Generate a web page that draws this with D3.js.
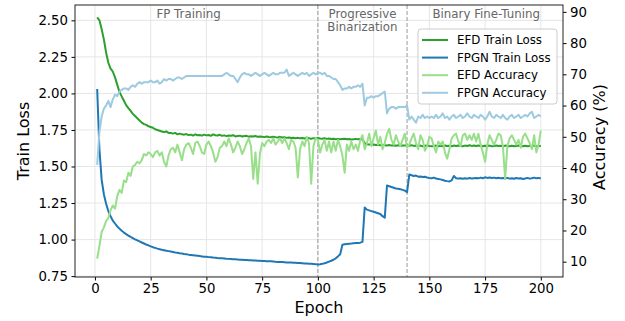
<!DOCTYPE html>
<html>
<head>
<meta charset="utf-8">
<script src="https://cdn.jsdelivr.net/npm/d3@7"></script>
<style>
  body { margin: 0; background: #fff; }
  text { font-family: "DejaVu Sans", sans-serif; }
</style>
</head>
<body>
<svg></svg>
<script>
// values, epochs 1..200
const efdLoss = [
  2.52, 2.50, 2.44, 2.37, 2.28, 2.21, 2.17, 2.15, 2.11, 2.06,
  2.01, 1.98, 1.95, 1.92, 1.90, 1.88, 1.86, 1.845, 1.83, 1.815,
  1.80, 1.79, 1.785, 1.775, 1.77, 1.765, 1.755, 1.75, 1.745, 1.74,
  1.735, 1.74, 1.73, 1.73, 1.725, 1.73, 1.72, 1.725, 1.72, 1.718,
  1.722, 1.715, 1.718, 1.712, 1.72, 1.714, 1.716, 1.711, 1.718, 1.713,
  1.716, 1.71, 1.72, 1.714, 1.712, 1.717, 1.71, 1.713, 1.708, 1.712,
  1.71, 1.714, 1.706, 1.709, 1.711, 1.705, 1.708, 1.71, 1.704, 1.707,
  1.705, 1.709, 1.703, 1.706, 1.704, 1.701, 1.705, 1.702, 1.70, 1.704,
  1.701, 1.699, 1.703, 1.698, 1.70, 1.696, 1.699, 1.695, 1.697, 1.694,
  1.696, 1.693, 1.695, 1.692, 1.697, 1.693, 1.69, 1.694, 1.691, 1.695,
  1.692, 1.69, 1.694, 1.689, 1.691, 1.688, 1.69, 1.687, 1.689, 1.686,
  1.688, 1.69, 1.686, 1.688, 1.685, 1.687, 1.689, 1.686, 1.688, 1.685,
  1.66, 1.652, 1.65, 1.648, 1.651, 1.647, 1.649, 1.645, 1.648, 1.646,
  1.644, 1.647, 1.643, 1.646, 1.642, 1.645, 1.641, 1.644, 1.643, 1.645,
  1.642, 1.646, 1.641, 1.644, 1.64, 1.643, 1.639, 1.642, 1.644, 1.64,
  1.638, 1.641, 1.643, 1.639, 1.642, 1.638, 1.644, 1.64, 1.642, 1.639,
  1.643, 1.64, 1.644, 1.641, 1.639, 1.643, 1.64, 1.645, 1.641, 1.643,
  1.64, 1.644, 1.641, 1.638, 1.642, 1.64, 1.643, 1.639, 1.641, 1.644,
  1.64, 1.642, 1.639, 1.643, 1.64, 1.638, 1.642, 1.639, 1.641, 1.643,
  1.64, 1.638, 1.642, 1.639, 1.641, 1.64, 1.643, 1.639, 1.641, 1.64
];
const fpgnLoss = [
  2.03, 1.62, 1.41, 1.31, 1.245, 1.195, 1.16, 1.13, 1.11, 1.09,
  1.075, 1.06, 1.048, 1.037, 1.027, 1.018, 1.01, 1.002, 0.995, 0.988,
  0.98, 0.973, 0.966, 0.96, 0.954, 0.948, 0.943, 0.938, 0.934, 0.93,
  0.927, 0.924, 0.921, 0.918, 0.915, 0.912, 0.91, 0.907, 0.905, 0.902,
  0.90, 0.897, 0.895, 0.893, 0.891, 0.889, 0.887, 0.885, 0.883, 0.882,
  0.88, 0.879, 0.877, 0.876, 0.874, 0.873, 0.872, 0.871, 0.869, 0.868,
  0.867, 0.866, 0.865, 0.864, 0.862, 0.862, 0.861, 0.86, 0.859, 0.858,
  0.857, 0.857, 0.855, 0.855, 0.854, 0.853, 0.852, 0.852, 0.851, 0.85,
  0.848, 0.847, 0.846, 0.846, 0.845, 0.844, 0.843, 0.843, 0.842, 0.841,
  0.84, 0.839, 0.838, 0.837, 0.836, 0.835, 0.834, 0.833, 0.832, 0.829,
  0.831, 0.834, 0.838, 0.843, 0.849, 0.855, 0.862, 0.872, 0.885, 0.90,
  0.965, 0.968, 0.97, 0.972, 0.973, 0.975, 0.976, 0.977, 0.979, 0.984,
  1.22, 1.205, 1.20, 1.195, 1.19, 1.185, 1.18, 1.175, 1.16, 1.15,
  1.37, 1.365, 1.36, 1.355, 1.35, 1.348, 1.345, 1.34, 1.335, 1.325,
  1.445, 1.44, 1.435, 1.438, 1.43, 1.432, 1.428, 1.43, 1.425, 1.422,
  1.42, 1.424, 1.418, 1.415, 1.412, 1.408, 1.403, 1.40, 1.398, 1.405,
  1.435, 1.42, 1.418, 1.42, 1.416, 1.419, 1.417, 1.421, 1.418, 1.42,
  1.422, 1.419, 1.424, 1.42, 1.426, 1.422, 1.425, 1.421, 1.424, 1.42,
  1.423, 1.419, 1.421, 1.418, 1.422, 1.417, 1.42, 1.416, 1.421, 1.418,
  1.42, 1.415, 1.418, 1.422, 1.417, 1.42, 1.424, 1.419, 1.422, 1.418
];
const efdAcc = [
  11, 15, 19.5, 21, 23, 24, 26.5, 28, 27, 31,
  33, 32, 36, 35.5, 38.5, 37.5, 40.5, 41, 42, 41.5,
  42.5, 44.5, 44, 45, 44.5, 43.5, 45, 45.5, 44, 45,
  42, 40.5, 44, 46, 46.5, 45, 47.5, 45, 42.5, 46,
  47.5, 48, 46.5, 44.5, 48, 48.5, 47, 45, 44.5, 47.5,
  48.5, 47, 45, 42, 43.5, 46.5, 47, 48.5, 47, 49.5,
  47.5, 45, 46.5, 48.5, 47, 44.5, 46, 48, 49.5, 47,
  36.5, 45, 35, 44.5, 48, 47, 48.5, 49, 48, 49.5,
  47.5, 48.5, 49.5, 48, 49.5, 48, 46, 49, 48.5, 46.5,
  37, 46, 48.5, 47, 50, 48, 35, 47, 49.5, 49,
  45, 47.5, 49, 45.5, 48.5, 45, 48.5, 45.5, 49, 47,
  44, 38.5, 47.5, 45.5, 48.5, 46, 47.5, 45.5, 49, 50.5,
  46, 48, 51, 47, 49.5, 52, 47.5, 50, 46, 48,
  51, 52.5, 49, 47.5, 50.5, 48.5, 47, 49, 51, 46.5,
  47.5, 49.5, 51, 48, 46, 50.5, 49, 45.5, 47, 50,
  49.5, 47, 45, 48.5, 47.5, 48.5, 45, 43, 46, 49.5,
  50.5, 51, 48.5, 47, 50.5, 51, 49, 50.5, 49, 51,
  48.5, 51, 47.5, 45, 42, 47.5, 50.5, 49, 47.5, 49,
  51, 50.5, 47, 36.5, 47, 49.5, 50.5, 49, 47.5, 49,
  46.5, 50, 51, 49.5, 48, 46, 50.5, 45, 47.5, 52
];
const fpgnAcc = [
  41, 51.5, 56.5, 59, 60, 61.5, 59.5, 62, 63.5, 63,
  64.5, 65, 65.5, 65.5, 65, 66, 66.5, 66, 67, 67.5,
  67, 67.5, 67.5, 67.5, 68, 67.5, 67.5, 68, 67, 67.5,
  68.5, 68, 68.5, 68.5, 68, 68.5, 69, 69, 68.5, 69,
  69.5, 69.5, 69.5, 69.5, 69.5, 69.5, 69.5, 69.5, 69.5, 69.5,
  69.5, 69.5, 69.5, 69.5, 69.5, 69.5, 69.5, 70, 70.5, 70,
  69.5, 69.5, 68.5, 67.5, 69, 70, 70.5, 70, 70, 69.5,
  70, 70.5, 70, 69.5, 70, 70.5, 70, 69.5, 70, 70.5,
  70, 70, 70.5, 70.5, 70.5, 71.5, 69.5, 70, 70.5, 70,
  69.5, 70, 70.5, 70, 70.5, 69.5, 70, 70.5, 70, 70.5,
  70.5, 70, 70.5, 69.5, 69.5, 69, 68.5, 68.5, 67.5, 66.5,
  65, 65.5, 65.5, 66, 65.5, 66, 66, 66.5, 66, 67,
  60, 62.5, 62.5, 63, 62.5, 63, 63, 63.5, 64, 64.5,
  57.5, 59, 59.5, 59.5, 59, 59.5, 59.5, 59.5, 59.5, 60,
  55.5, 56.5, 55.5, 54.5, 56.5, 56, 57, 56, 56.5, 56,
  56.5, 56, 57, 56, 56.5, 57.5, 56, 56.5, 55.5, 56.5,
  57, 56, 56.5, 57, 56, 56.5, 57.5, 56.5, 56, 57,
  56.5, 56, 57, 56.5, 55.5, 56.5, 58, 56.5, 56, 57,
  56.5, 56, 57, 56, 55.5, 56.5, 57, 56, 56.5, 57,
  56, 56.5, 57, 56.5, 57.5, 58, 56, 56.5, 57, 56.5
];
const epochs = d3.range(1, 201);
const xTicks = [0, 25, 50, 75, 100, 125, 150, 175, 200];
const lossTicks = [0.75, 1.00, 1.25, 1.50, 1.75, 2.00, 2.25, 2.50];
const accTicks = [10, 20, 30, 40, 50, 60, 70, 80, 90];
const phaseBounds = [100, 140];
const phaseNames = [['FP Training'], ['Progressive', 'Binarization'], ['Binary Fine-Tuning']];
const phaseCenters = [42, 120, 175.5];
const seriesNames = ['EFD Train Loss', 'FPGN Train Loss', 'EFD Accuracy', 'FPGN Accuracy'];

const size = {w: 625, h: 321};
const plot = {l: 75, r: 563, t: 5, b: 277};
const colors = ['#2ca02c', '#1f77b4', '#98df8a', '#9ecae1'];

const svg = d3.select('svg')
    .attr('width', size.w)
    .attr('height', size.h);

const x = d3.scaleLinear().domain([-8.95, 209.95]).range([plot.l, plot.r]);
const yL = d3.scaleLinear().domain([0.744, 2.605]).range([plot.b, plot.t]);
const yR = d3.scaleLinear().domain([5.1, 92.2]).range([plot.b, plot.t]);

// grid
const grid = svg.append('g').attr('stroke', '#e3e3e3').attr('stroke-width', 0.9);
grid.selectAll('.gx').data(xTicks).enter().append('line')
    .attr('x1', d => x(d)).attr('x2', d => x(d))
    .attr('y1', plot.t).attr('y2', plot.b);
grid.selectAll('.gy').data(lossTicks).enter().append('line')
    .attr('x1', plot.l).attr('x2', plot.r)
    .attr('y1', d => yL(d)).attr('y2', d => yL(d));

// phase boundaries
svg.append('g').selectAll('line').data(phaseBounds).enter().append('line')
    .attr('x1', d => x(d)).attr('x2', d => x(d))
    .attr('y1', plot.t).attr('y2', plot.b)
    .attr('stroke', '#999').attr('stroke-width', 1)
    .attr('stroke-dasharray', '4,2');

// phase labels
phaseNames.forEach(function (lines, i) {
    let t = svg.append('text')
        .attr('x', x(phaseCenters[i]))
        .attr('y', 17.5)
        .attr('text-anchor', 'middle')
        .attr('font-size', 11.8)
        .attr('fill', '#666');
    lines.forEach(function (s, j) {
        t.append('tspan').attr('x', x(phaseCenters[i])).attr('dy', j ? 13.5 : 0).text(s);
    });
});

const clip = svg.append('clipPath').attr('id', 'clip').append('rect')
    .attr('x', plot.l).attr('y', plot.t)
    .attr('width', plot.r - plot.l).attr('height', plot.b - plot.t);

const lines = svg.append('g').attr('clip-path', 'url(#clip)');
const lossLine = d3.line().x((d, i) => x(epochs[i])).y(d => yL(d));
const accLine = d3.line().x((d, i) => x(epochs[i])).y(d => yR(d));

[efdLoss, fpgnLoss].forEach(function (s, i) {
    lines.append('path').attr('d', lossLine(s))
        .attr('fill', 'none').attr('stroke', colors[i])
        .attr('stroke-width', 2).attr('stroke-linejoin', 'round');
});
[efdAcc, fpgnAcc].forEach(function (s, i) {
    lines.append('path').attr('d', accLine(s))
        .attr('fill', 'none').attr('stroke', colors[i + 2])
        .attr('stroke-width', 2).attr('stroke-linejoin', 'round');
});

// axes
const axisX = svg.append('g')
    .attr('transform', 'translate(0,' + plot.b + ')')
    .call(d3.axisBottom(x).tickValues(xTicks).tickSizeOuter(0).tickSize(3.5).tickPadding(3.5));
const axisL = svg.append('g')
    .attr('transform', 'translate(' + plot.l + ',0)')
    .call(d3.axisLeft(yL).tickValues(lossTicks).tickFormat(d3.format('.2f')).tickSizeOuter(0).tickSize(3.5).tickPadding(3.5));
const axisR = svg.append('g')
    .attr('transform', 'translate(' + plot.r + ',0)')
    .call(d3.axisRight(yR).tickValues(accTicks).tickSizeOuter(0).tickSize(3.5).tickPadding(3.5));

[axisX, axisL, axisR].forEach(function (a) {
    a.select('.domain').remove();
    a.selectAll('text').attr('font-size', 13.3).attr('fill', '#000')
        .attr('font-family', '"DejaVu Sans", sans-serif');
    a.selectAll('line').attr('stroke', '#000');
});

svg.append('rect')
    .attr('x', plot.l).attr('y', plot.t)
    .attr('width', plot.r - plot.l).attr('height', plot.b - plot.t)
    .attr('fill', 'none').attr('stroke', '#222').attr('stroke-width', 1);

// axis titles
svg.append('text').attr('x', (plot.l + plot.r) / 2).attr('y', 313)
    .attr('text-anchor', 'middle').attr('font-size', 16).text('Epoch');
svg.append('text').attr('transform', 'translate(29,141) rotate(-90)')
    .attr('text-anchor', 'middle').attr('font-size', 16).text('Train Loss');
svg.append('text').attr('transform', 'translate(605,137) rotate(-90)')
    .attr('text-anchor', 'middle').attr('font-size', 16).text('Accuracy (%)');

// legend
const legend = svg.append('g').attr('transform', 'translate(418,29)');
legend.append('rect')
    .attr('width', 139).attr('height', 75).attr('rx', 3)
    .attr('fill', '#fff').attr('fill-opacity', 0.85)
    .attr('stroke', '#ccc').attr('stroke-width', 1);
seriesNames.forEach(function (name, i) {
    let yy = 11 + i * 17.6;
    legend.append('line')
        .attr('x1', 4).attr('x2', 30).attr('y1', yy).attr('y2', yy)
        .attr('stroke', colors[i]).attr('stroke-width', 2);
    legend.append('text').attr('x', 39).attr('y', yy + 4.2)
        .attr('font-size', 11.8).text(name);
});
</script>
</body>
</html>
